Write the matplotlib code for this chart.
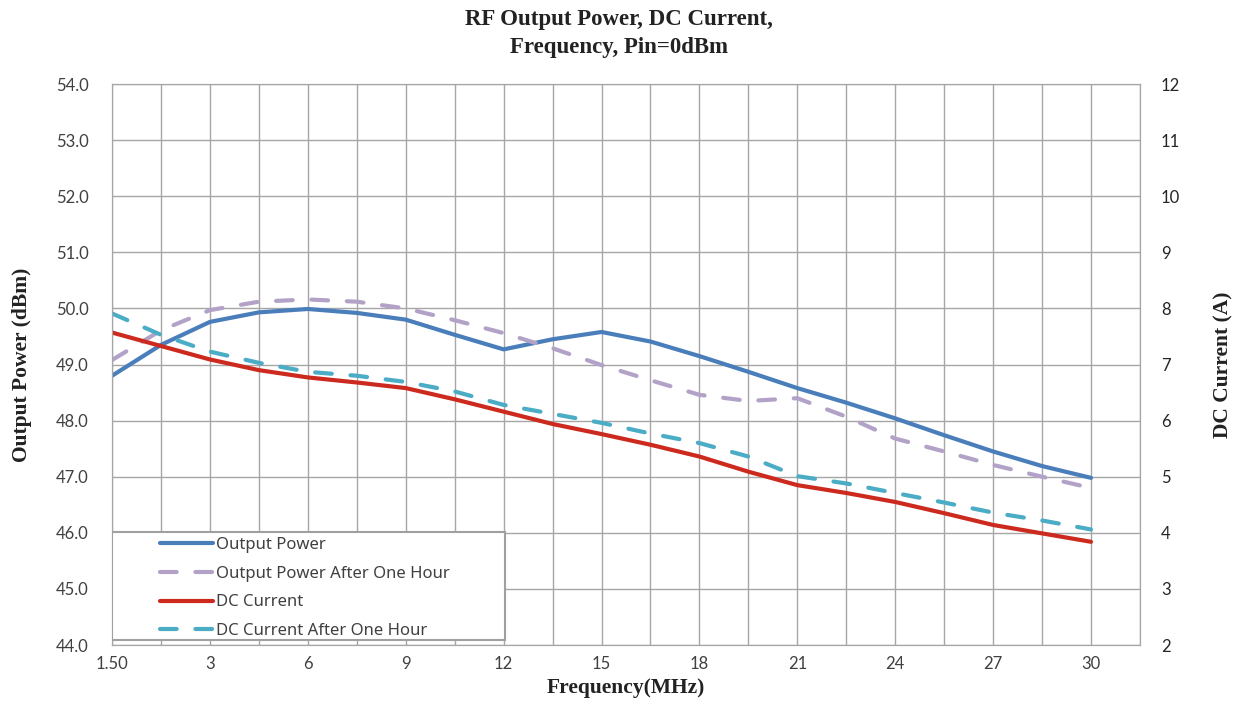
import matplotlib
matplotlib.use("Agg")
import matplotlib.pyplot as plt
from matplotlib.patches import Rectangle
import numpy as np

# frequency categories (MHz); every other one is labelled on the axis
freq_labels = ['1.50', '', '3', '', '6', '', '9', '', '12', '', '15', '',
               '18', '', '21', '', '24', '', '27', '', '30']

out_power = [48.80, 49.35, 49.76, 49.93, 49.99, 49.92, 49.80, 49.53, 49.27, 49.45,
             49.58, 49.41, 49.15, 48.87, 48.58, 48.32, 48.04, 47.74, 47.45, 47.19, 46.98]
out_power_1h = [49.08, 49.61, 49.97, 50.12, 50.16, 50.12, 50.00, 49.79, 49.56, 49.29,
                48.99, 48.72, 48.46, 48.35, 48.40, 48.07, 47.68, 47.45, 47.21, 47.00, 46.80]
dc_current = [7.57, 7.33, 7.09, 6.90, 6.77, 6.68, 6.58, 6.38, 6.16, 5.94,
              5.76, 5.57, 5.36, 5.09, 4.85, 4.71, 4.55, 4.35, 4.14, 3.99, 3.84]
dc_current_1h = [7.91, 7.53, 7.23, 7.03, 6.87, 6.80, 6.69, 6.52, 6.28, 6.12,
                 5.96, 5.77, 5.60, 5.36, 5.01, 4.88, 4.71, 4.54, 4.36, 4.22, 4.06]

x = np.arange(len(freq_labels))

fig = plt.figure(figsize=(12.38, 7.17), dpi=100)
ax = fig.add_axes([0.0905, 0.1004, 0.8303, 0.7824])
ax2 = ax.twinx()

grid_c = '#a6a6a6'
l1, = ax.plot(x, out_power, color='#4a7ebb', lw=3, solid_capstyle='round',
              label='Output Power')
l2, = ax.plot(x, out_power_1h, color='#b3a2c7', lw=3, dashes=(4, 4.5),
              dash_capstyle='round', label='Output Power After One Hour')
l3, = ax2.plot(x, dc_current, color='#cc2a1e', lw=3, solid_capstyle='round',
               label='DC Current')
l4, = ax2.plot(x, dc_current_1h, color='#4bacc6', lw=3, dashes=(4, 4.5),
               dash_capstyle='round', label='DC Current After One Hour')

ax.set_xlim(0, 21)
ax.set_ylim(44, 54)
ax2.set_ylim(2, 12)
ax.set_yticks(np.arange(44, 54.1, 1))
ax.set_yticklabels(['%.1f' % v for v in np.arange(44, 54.1, 1)])
ax2.set_yticks(np.arange(2, 13, 1))
ax.set_xticks(np.arange(0, 22, 1))
ax.set_xticklabels(freq_labels + [''])

ax.grid(True, color=grid_c, lw=1)
ax.set_axisbelow(True)
for a in (ax, ax2):
    for s in a.spines.values():
        s.set_color(grid_c)
    a.tick_params(length=0, labelsize=12, colors='#404040', labelfontfamily='Lato')
ax.tick_params(axis='y', pad=17)
ax2.tick_params(axis='y', pad=15, colors='#262626')
ax.tick_params(axis='x', pad=8)

lab = dict(fontsize=15.5, fontweight='bold', family='Liberation Serif', color='#222222')
ax.set_xlabel('Frequency(MHz)', labelpad=4, **lab)
ax.set_ylabel('Output Power (dBm)', labelpad=17, **lab)
ax2.set_ylabel('DC Current (A)', labelpad=24, **lab)

fig.text(0.5, 0.988, 'RF Output Power, DC Current,\nFrequency, Pin=0dBm', ha='center', va='top',
         fontsize=16.5, fontweight='bold', family='Liberation Serif', color='#222222',
         linespacing=1.45)

# legend box drawn separately so the entries can sit inset like the original
ax2.add_patch(Rectangle((0.0, 0.009), 0.382, 0.1925, transform=ax2.transAxes,
                        facecolor='white', edgecolor='#a0a0a0', lw=1.5, zorder=5))
leg = ax2.legend(handles=[l1, l2, l3, l4], loc='upper left',
                 bbox_to_anchor=(0.0467, 0.1925), frameon=False, handlelength=3.2,
                 prop={'family': 'Noto Sans', 'size': 12}, borderaxespad=0,
                 labelspacing=0.76, borderpad=0, handletextpad=0.15)
leg.set_zorder(6)
for t in leg.get_texts():
    t.set_color('#404040')

fig.savefig('out.png', dpi=100)
